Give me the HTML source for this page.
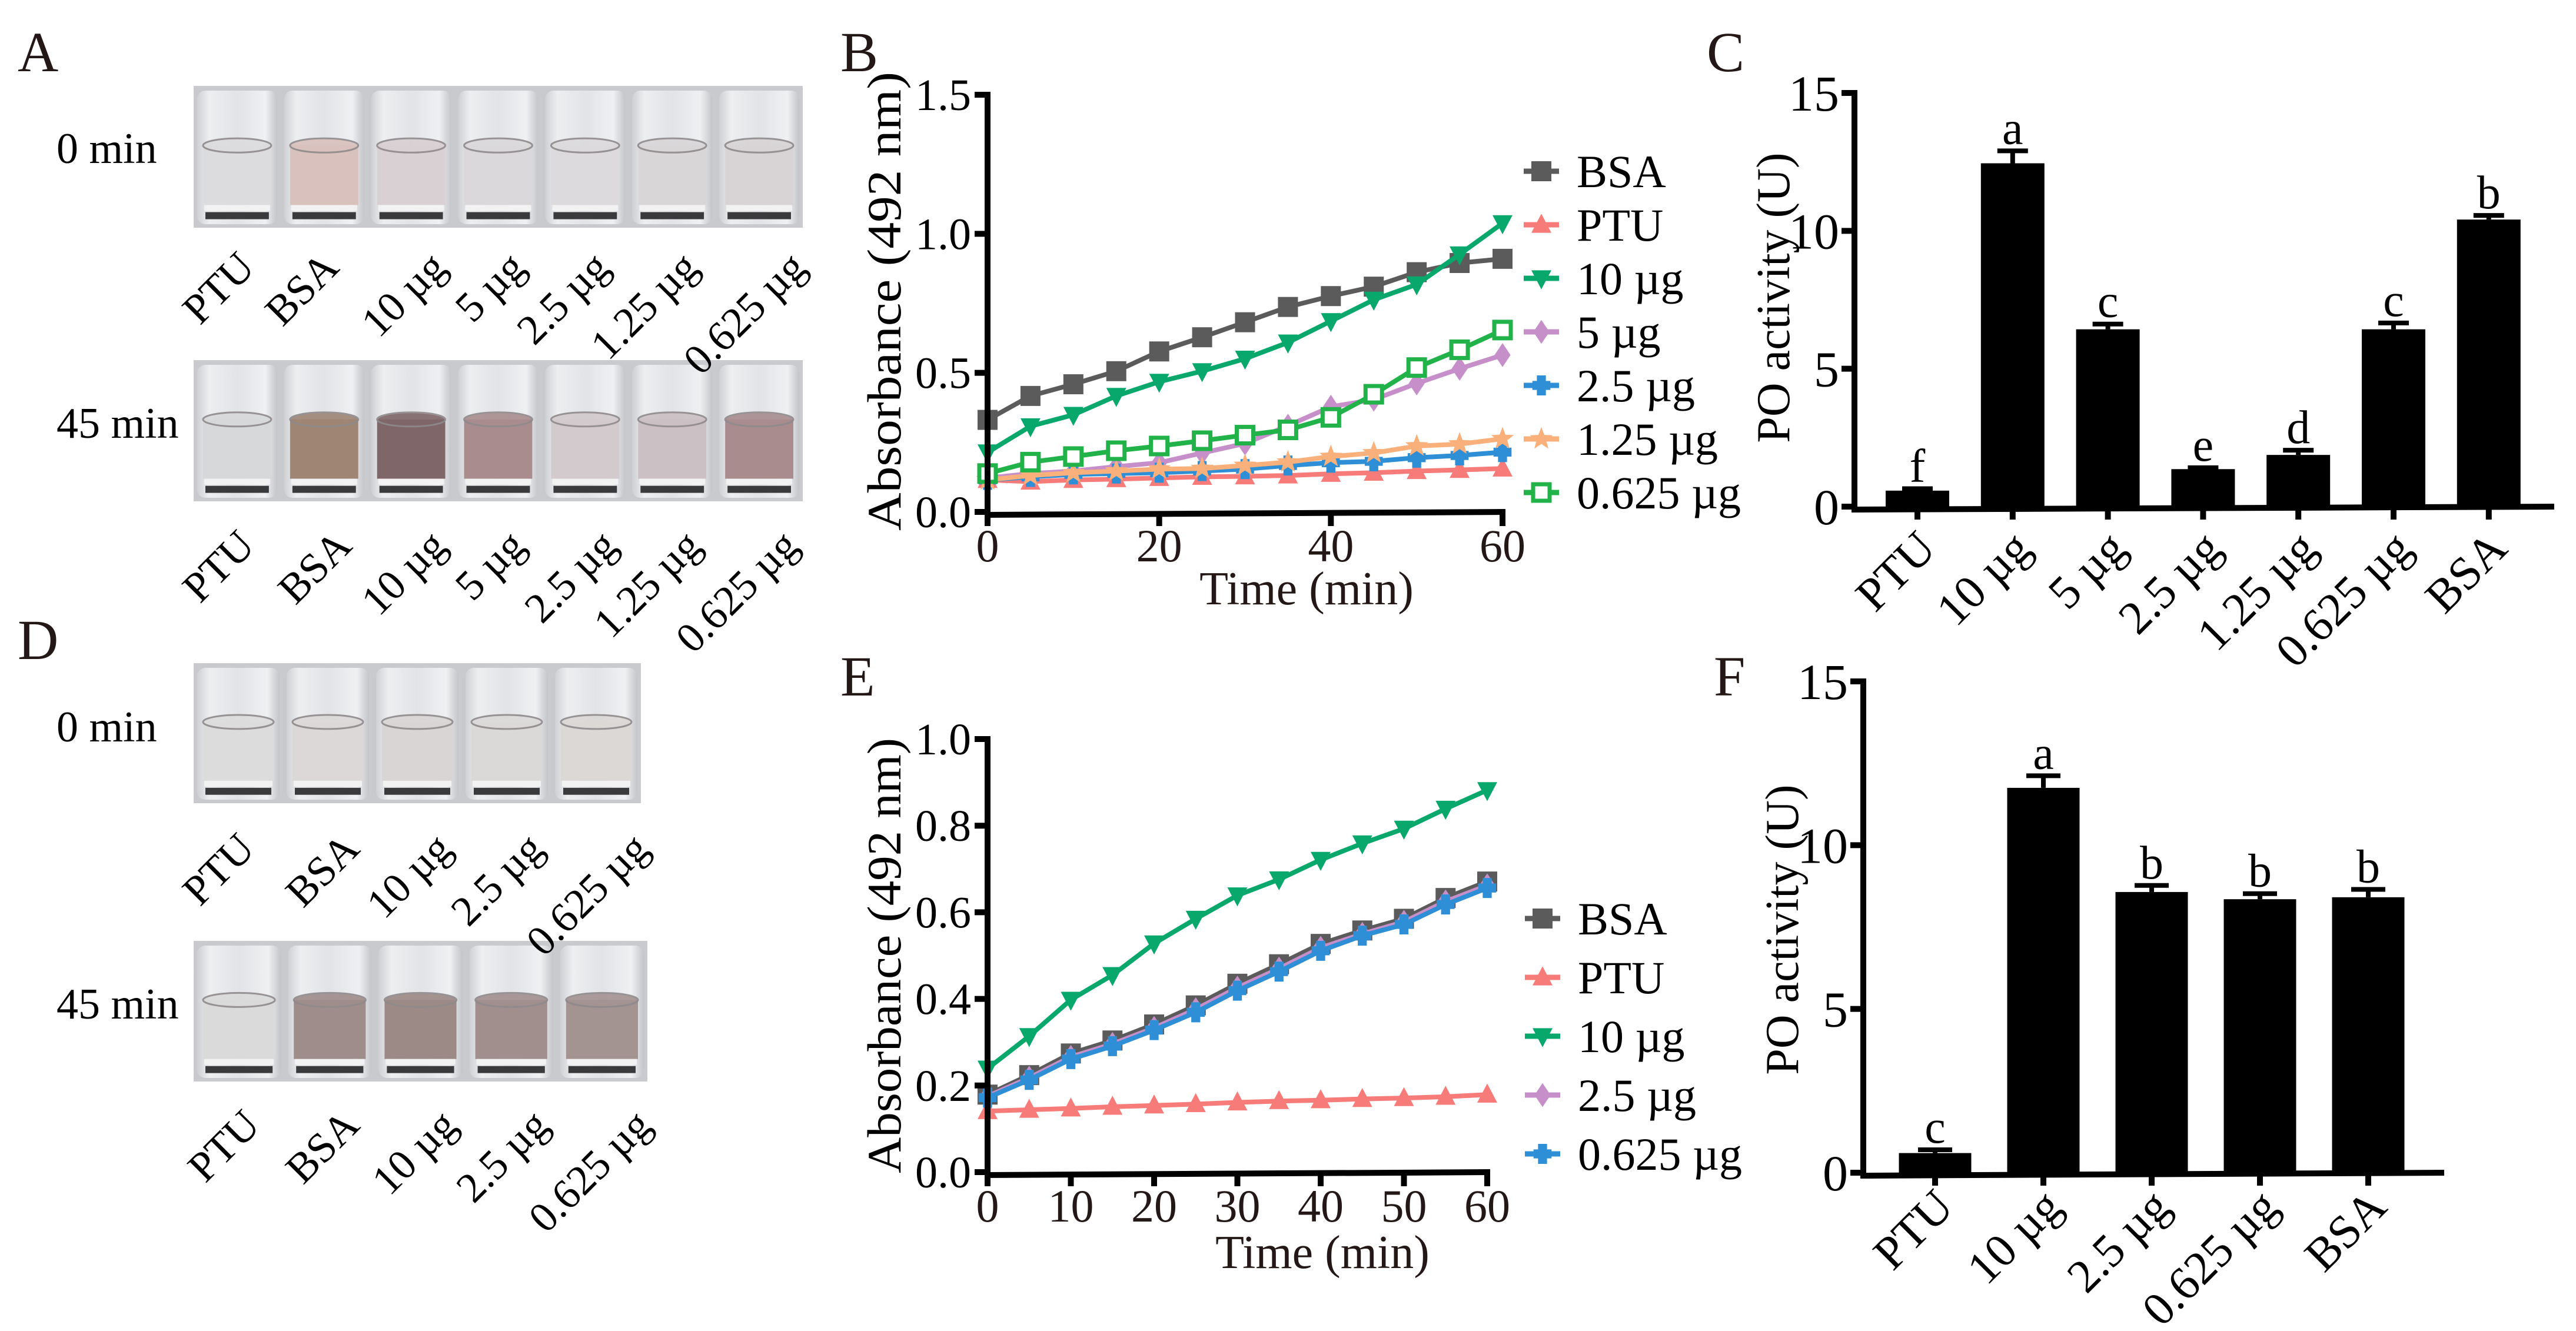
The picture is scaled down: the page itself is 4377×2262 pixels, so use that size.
<!DOCTYPE html>
<html><head><meta charset="utf-8">
<style>
html,body{margin:0;padding:0;background:#fff;}
svg, svg text{font-family:"Liberation Serif","Times New Roman",serif;}
</style></head>
<body>
<svg id="fig" width="4377" height="2257" viewBox="0 0 4377 2257" xmlns="http://www.w3.org/2000/svg" font-family="Liberation Serif, serif">
<defs>
<linearGradient id="glass" x1="0" y1="0" x2="1" y2="0">
<stop offset="0" stop-color="#cfd0d3"/><stop offset="0.15" stop-color="#eceef0"/><stop offset="0.5" stop-color="#e2e3e6"/><stop offset="0.85" stop-color="#eef0f2"/><stop offset="1" stop-color="#c4c5c9"/>
</linearGradient>
</defs>
<g id="panel-letters" font-size="96" fill="#231815">
<text x="30" y="121">A</text>
<text x="1428" y="121">B</text>
<text x="2900" y="121">C</text>
<text x="30" y="1120">D</text>
<text x="1428" y="1182">E</text>
<text x="2912" y="1182">F</text>
</g>
<g id="photos"></g>
<g id="chartB"></g>
<g id="chartC"></g>
<g id="chartE"></g>
<g id="chartF"></g>
</svg>
<script>
// ---------- Chart B data ----------
const timeB = [0,5,10,15,20,25,30,35,40,45,50,55,60];
const seriesNamesB = ["BSA","PTU","10 µg","5 µg","2.5 µg","1.25 µg","0.625 µg"];
const bsaB   = [0.331,0.417,0.459,0.506,0.577,0.628,0.682,0.737,0.776,0.81,0.862,0.895,0.91];
const ptuB   = [0.115,0.109,0.115,0.118,0.122,0.126,0.128,0.131,0.137,0.141,0.147,0.151,0.156];
const ug10B  = [0.214,0.308,0.349,0.417,0.468,0.506,0.551,0.609,0.686,0.763,0.818,0.926,1.038];
const ug5B   = [0.122,0.138,0.147,0.163,0.177,0.212,0.246,0.31,0.378,0.404,0.462,0.515,0.564];
const ug25B  = [0.115,0.126,0.135,0.138,0.141,0.147,0.154,0.167,0.177,0.182,0.195,0.203,0.215];
const ug125B = [0.115,0.131,0.141,0.147,0.154,0.156,0.167,0.179,0.199,0.212,0.237,0.244,0.263];
const ug0625B= [0.138,0.179,0.199,0.22,0.237,0.256,0.276,0.295,0.34,0.423,0.519,0.583,0.654];
const yTicksB = [0,0.5,1.0,1.5];
const yTickLabelsB = ["0.0","0.5","1.0","1.5"];
const xTicksB = [0,20,40,60];

// ---------- Chart E data ----------
const timeE = [0,5,10,15,20,25,30,35,40,45,50,55,60];
const seriesNamesE = ["BSA","PTU","10 µg","2.5 µg","0.625 µg"];
const bsaE   = [0.179,0.224,0.274,0.304,0.341,0.385,0.435,0.48,0.527,0.558,0.585,0.633,0.671];
const ptuE   = [0.141,0.144,0.147,0.151,0.154,0.157,0.161,0.164,0.166,0.169,0.171,0.174,0.179];
const ug10E  = [0.239,0.314,0.398,0.455,0.528,0.585,0.639,0.676,0.721,0.759,0.793,0.839,0.882];
const ug25E  = [0.175,0.218,0.266,0.296,0.333,0.376,0.426,0.47,0.518,0.55,0.578,0.625,0.662];
const ug0625E= [0.172,0.213,0.261,0.291,0.328,0.369,0.419,0.463,0.511,0.546,0.572,0.618,0.656];
const yTicksE = [0,0.2,0.4,0.6,0.8,1.0];
const yTickLabelsE = ["0.0","0.2","0.4","0.6","0.8","1.0"];
const xTicksE = [0,10,20,30,40,50,60];

// ---------- Chart C data ----------
const catsC = ["PTU","10 µg","5 µg","2.5 µg","1.25 µg","0.625 µg","BSA"];
const valsC = [0.58,12.45,6.43,1.36,1.875,6.43,10.41];
const errC  = [0.07,0.45,0.19,0.05,0.17,0.23,0.15];
const lettersC = ["f","a","c","e","d","c","b"];
const yTicksC = [0,5,10,15];

// ---------- Chart F data ----------
const catsF = ["PTU","10 µg","2.5 µg","0.625 µg","BSA"];
const valsF = [0.6,11.75,8.57,8.35,8.41];
const errF  = [0.1,0.37,0.2,0.17,0.24];
const lettersF = ["c","a","b","b","b"];
const yTicksF = [0,5,10,15];

const NS = "http://www.w3.org/2000/svg";
const SERIF = "Liberation Serif, Times New Roman, serif";
function mk(tag, attrs, parent){
  const e = document.createElementNS(NS, tag);
  for (const k in attrs) e.setAttribute(k, attrs[k]);
  if (tag === "text") e.setAttribute("font-family", SERIF);
  if (parent) parent.appendChild(e);
  return e;
}

const styleB = {"BSA":["#5b5b5b","square"],"PTU":["#f77b78","tri-up"],"10 µg":["#08a86c","tri-down"],"5 µg":["#c68fca","diamond"],"2.5 µg":["#2f8fd6","cross"],"1.25 µg":["#f9b07a","star"],"0.625 µg":["#22b24a","open-square"]};
const styleE = {"BSA":["#5b5b5b","square"],"PTU":["#f77b78","tri-up"],"10 µg":["#08a86c","tri-down"],"2.5 µg":["#c68fca","diamond"],"0.625 µg":["#2f8fd6","cross"]};

function drawMarker(g, type, x, y, col, s){
  let m;
  if (type==="square") m = mk("rect",{x:x-s,y:y-s,width:2*s,height:2*s,fill:col},g);
  else if (type==="open-square") m = mk("rect",{x:x-s+3,y:y-s+3,width:2*s-6,height:2*s-6,fill:"#fff",stroke:col,"stroke-width":7},g);
  else if (type==="tri-up") m = mk("polygon",{points:`${x},${y-s*1.1} ${x+s},${y+s*0.8} ${x-s},${y+s*0.8}`,fill:col},g);
  else if (type==="tri-down") m = mk("polygon",{points:`${x},${y+s*1.1} ${x+s},${y-s*0.8} ${x-s},${y-s*0.8}`,fill:col},g);
  else if (type==="diamond") m = mk("polygon",{points:`${x},${y-s*1.2} ${x+s*0.8},${y} ${x},${y+s*1.2} ${x-s*0.8},${y}`,fill:col},g);
  else if (type==="cross") m = mk("path",{d:`M${x-s*0.9},${y}L${x+s*0.9},${y}M${x},${y-s}L${x},${y+s}`,stroke:col,"stroke-width":s*0.9,fill:"none"},g);
  else {
    let pts=[];
    for(let i=0;i<10;i++){const r=i%2?s*0.5:s*1.2;const a=-Math.PI/2+i*Math.PI/5;pts.push((x+r*Math.cos(a)).toFixed(1)+","+(y+r*Math.sin(a)).toFixed(1));}
    m = mk("polygon",{points:pts.join(" "),fill:col},g);
  }
  
  
  return m;
}

function lineChart(g, cfg){
  const sx = v => cfg.x0 + (v - 0) / 60 * (cfg.x1 - cfg.x0);
  const sy = v => cfg.y0 - v / cfg.ymax * (cfg.y0 - cfg.y1);
  cfg.series.forEach((s, si) => {
    const sg = mk("g",{},g);
    
    
    const col = cfg.style[s.name][0], mt = cfg.style[s.name][1];
    const pts = s.vals.map((v,i)=> sx(cfg.time[i]).toFixed(1)+","+sy(v).toFixed(1)).join(" ");
    const pl = mk("polyline",{points:pts,fill:"none",stroke:col,"stroke-width":8,"stroke-linejoin":"round"},sg);
    
    
    s.vals.forEach((v,i)=> drawMarker(sg, mt, sx(cfg.time[i]), sy(v), col, 17));
  });
  const ax = mk("g",{stroke:"#000","stroke-width":10,fill:"none"},g);
  
  
  mk("path",{d:`M${cfg.x0},${cfg.y1-5}L${cfg.x0},${cfg.y0+5}L${cfg.x1+5},${cfg.y0}`},ax);
  cfg.yTicks.forEach((t,i)=>{
    mk("line",{x1:cfg.x0-22,x2:cfg.x0,y1:sy(t),y2:sy(t)},ax);
    const tx = mk("text",{x:cfg.x0-28,y:sy(t)+26,"text-anchor":"end","font-size":76,fill:"#000",stroke:"none"},g);
    tx.textContent = cfg.yLabels[i];
    
    
  });
  cfg.xTicks.forEach(t=>{
    mk("line",{x1:sx(t),x2:sx(t),y1:cfg.y0,y2:cfg.y0+24},ax);
    const tx = mk("text",{x:sx(t),y:cfg.y0+84,"text-anchor":"middle","font-size":78,fill:"#231815"},g);
    tx.textContent = t;
    
    
  });
  const xt = mk("text",{x:cfg.xTitleX,y:cfg.xTitleY,"text-anchor":"middle","font-size":80,fill:"#231815"},g);
  xt.textContent = "Time (min)";
  
  
  const yt = mk("text",{x:0,y:0,"text-anchor":"middle","font-size":82,fill:"#000",transform:`translate(${cfg.yTitleX},${cfg.yTitleY}) rotate(-90)`,textLength:cfg.yTitleLen,lengthAdjust:"spacingAndGlyphs"},g);
  yt.textContent = "Absorbance (492 nm)";
  
  
  const lg = mk("g",{},g);
  
  
  cfg.series.forEach((s,i)=>{
    const y = cfg.legY + i*cfg.legDy;
    const col = cfg.style[s.name][0], mt = cfg.style[s.name][1];
    const eg = mk("g",{},lg);
    
    
    mk("line",{x1:cfg.legX-30,x2:cfg.legX+30,y1:y,y2:y,stroke:col,"stroke-width":9},eg);
    drawMarker(eg, mt, cfg.legX, y, col, 17);
    const t = mk("text",{x:cfg.legX+60,y:y+27,"font-size":78,fill:"#000"},eg);
    t.textContent = s.name;
  });
}

lineChart(document.getElementById("chartB"), {
  x0:1678, x1:2553, y0:870, y1:161, ymax:1.5, time:timeB, style:styleB,
  yTicks:yTicksB, yLabels:yTickLabelsB, xTicks:xTicksB,
  xTitleX:2220, xTitleY:1027, yTitleX:1530, yTitleY:512, yTitleLen:780,
  legX:2619, legY:291, legDy:91,
  series:[{name:seriesNamesB[0],vals:bsaB},{name:seriesNamesB[1],vals:ptuB},{name:seriesNamesB[2],vals:ug10B},{name:seriesNamesB[3],vals:ug5B},{name:seriesNamesB[4],vals:ug25B},{name:seriesNamesB[5],vals:ug125B},{name:seriesNamesB[6],vals:ug0625B}]
});
lineChart(document.getElementById("chartE"), {
  x0:1678, x1:2527, y0:1992, y1:1256, ymax:1.0, time:timeE, style:styleE,
  yTicks:yTicksE, yLabels:yTickLabelsE, xTicks:xTicksE,
  xTitleX:2247, xTitleY:2155, yTitleX:1530, yTitleY:1624, yTitleLen:740,
  legX:2621, legY:1561, legDy:100,
  series:[{name:seriesNamesE[0],vals:bsaE},{name:seriesNamesE[1],vals:ptuE},{name:seriesNamesE[2],vals:ug10E},{name:seriesNamesE[3],vals:ug25E},{name:seriesNamesE[4],vals:ug0625E}]
});

function barChart(g, cfg){
  const sy = v => cfg.y0 - v/15*(cfg.y0-cfg.y1);
  const cx = i => cfg.c0 + i*cfg.step;
  cfg.cats.forEach((c,i)=>{
    const bg = mk("g",{},g);
    
    
    const top = sy(cfg.vals[i]), et = sy(cfg.vals[i]+cfg.errs[i]);
    mk("rect",{x:cx(i)-cfg.bw/2,y:top,width:cfg.bw,height:cfg.y0-top,fill:"#000"},bg);
    mk("line",{x1:cx(i),x2:cx(i),y1:top,y2:et,stroke:"#000","stroke-width":8},bg);
    mk("line",{x1:cx(i)-cfg.capw/2,x2:cx(i)+cfg.capw/2,y1:et,y2:et,stroke:"#000","stroke-width":8},bg);
    const lt = mk("text",{x:cx(i),y:et-12,"text-anchor":"middle","font-size":80,fill:"#000"},g);
    lt.textContent = cfg.letters[i];
    
    
    const xl = mk("text",{x:0,y:0,"text-anchor":"end","font-size":80,fill:"#000",transform:`translate(${cx(i)+35},${cfg.y0+cfg.labDy}) rotate(-45)`},g);
    xl.textContent = c;
    
    
  });
  const ax = mk("g",{stroke:"#000","stroke-width":10,fill:"none"},g);
  
  
  mk("path",{d:`M${cfg.x0},${cfg.y1-5}L${cfg.x0},${cfg.y0+5}L${cfg.xEnd},${cfg.y0}`},ax);
  cfg.yTicks.forEach(t=>{
    mk("line",{x1:cfg.x0-22,x2:cfg.x0,y1:sy(t),y2:sy(t)},ax);
    const tx = mk("text",{x:cfg.x0-26,y:sy(t)+30,"text-anchor":"end","font-size":86,fill:"#000",stroke:"none"},g);
    tx.textContent = t;
    
    
  });
  cfg.cats.forEach((c,i)=> mk("line",{x1:cx(i),x2:cx(i),y1:cfg.y0,y2:cfg.y0+22},ax));
  const yt = mk("text",{x:0,y:0,"text-anchor":"middle","font-size":80,fill:"#000",transform:`translate(${cfg.yTitleX},${cfg.yTitleY}) rotate(-90)`},g);
  yt.textContent = "PO activity (U)";
  
  
}

barChart(document.getElementById("chartC"), {
  x0:3151, y0:861, y1:158, xEnd:4340, c0:3258, step:161.8, bw:108, capw:52,
  cats:catsC, vals:valsC, errs:errC, letters:lettersC, yTicks:yTicksC,
  labDy:75, yTitleX:3040, yTitleY:506
});
barChart(document.getElementById("chartF"), {
  x0:3166, y0:1993, y1:1158, xEnd:4153, c0:3288, step:184, bw:123, capw:58,
  cats:catsF, vals:valsF, errs:errF, letters:lettersF, yTicks:yTicksF,
  labDy:62, yTitleX:3055, yTitleY:1580
});

// ---------- Photo panels (illustrative) ----------
const photoLabelsA = ["PTU","BSA","10 µg","5 µg","2.5 µg","1.25 µg","0.625 µg"];
const photoLabelsD = ["PTU","BSA","10 µg","2.5 µg","0.625 µg"];
const liquidA0  = ["#dcdcde","#d9c1bd","#d8d0d2","#dad8da","#dcdadc","#d9d6d8","#d8d4d6"];
const liquidA45 = ["#d7d8da","#9e8574","#7f6668","#a98d8e","#d2cacc","#cbc0c3","#a88c8e"];
const liquidD0  = ["#dcdcdc","#dcd8d8","#d9d5d5","#dbd9d8","#dbd8d6"];
const liquidD45 = ["#dadada","#9e8d8b","#9b8a86","#a18f8e","#a39391"];

const pg = document.getElementById("photos");
function photo(x, y, w, h, liquids, name){
  const g = mk("g",{},pg);
  
  
  mk("rect",{x:x,y:y,width:w,height:h,fill:"#c9cacd"},g);
  const n = liquids.length, vw = w/n;
  liquids.forEach((c,i)=>{
    const vx = x + i*vw + 6;
    const vg = mk("g",{},g);
    
    
    mk("rect",{x:vx,y:y+8,width:vw-12,height:h-14,rx:14,fill:"url(#glass)"},vg);
    mk("rect",{x:vx+10,y:y+h*0.42,width:vw-32,height:h*0.42,fill:c},vg);
    mk("ellipse",{cx:vx+(vw-12)/2,cy:y+h*0.42,rx:(vw-32)/2,ry:h*0.05,fill:c,stroke:"#8f8a8c","stroke-width":3,opacity:0.9},vg);
    mk("rect",{x:vx+12,y:y+h*0.84,width:vw-36,height:h*0.04,fill:"#f2f2f2"},vg);
    mk("rect",{x:vx+14,y:y+h*0.89,width:vw-40,height:h*0.05,fill:"#3a3a3c"},vg);
  });
}
function photoLabels(labels, xs, y, name){
  const g = mk("g",{"font-size":72,fill:"#000"},pg);
  
  
  labels.forEach((l,i)=>{
    const t = mk("text",{x:0,y:0,"text-anchor":"end",transform:`translate(${xs[i]},${y}) rotate(-45)`},g);
    t.textContent = l;
  });
}
function sideLabel(txt, x, y, name){
  const t = mk("text",{x:x,y:y,"font-size":74,fill:"#000"},pg);
  t.textContent = txt;
  
  
}
photo(329,146,1035,241,liquidA0,"photo-a-0min");
photo(329,612,1035,240,liquidA45,"photo-a-45min");
photo(329,1127,760,238,liquidD0,"photo-d-0min");
photo(329,1599,771,239,liquidD45,"photo-d-45min");
sideLabel("0 min",96,277,"time-label-a-0min");
sideLabel("45 min",96,744,"time-label-a-45min");
sideLabel("0 min",96,1260,"time-label-d-0min");
sideLabel("45 min",96,1731,"time-label-d-45min");
photoLabels(photoLabelsA,[436,579,762,896,1039,1190,1373],458,"photo-labels-a-0min");
photoLabels(photoLabelsA,[436,601,762,896,1052,1195,1360],931,"photo-labels-a-45min");
photoLabels(photoLabelsD,[436,614,771,927,1106],1446,"photo-labels-d-0min");
photoLabels(photoLabelsD,[445,614,780,936,1110],1916,"photo-labels-d-45min");
</script>
</body></html>
